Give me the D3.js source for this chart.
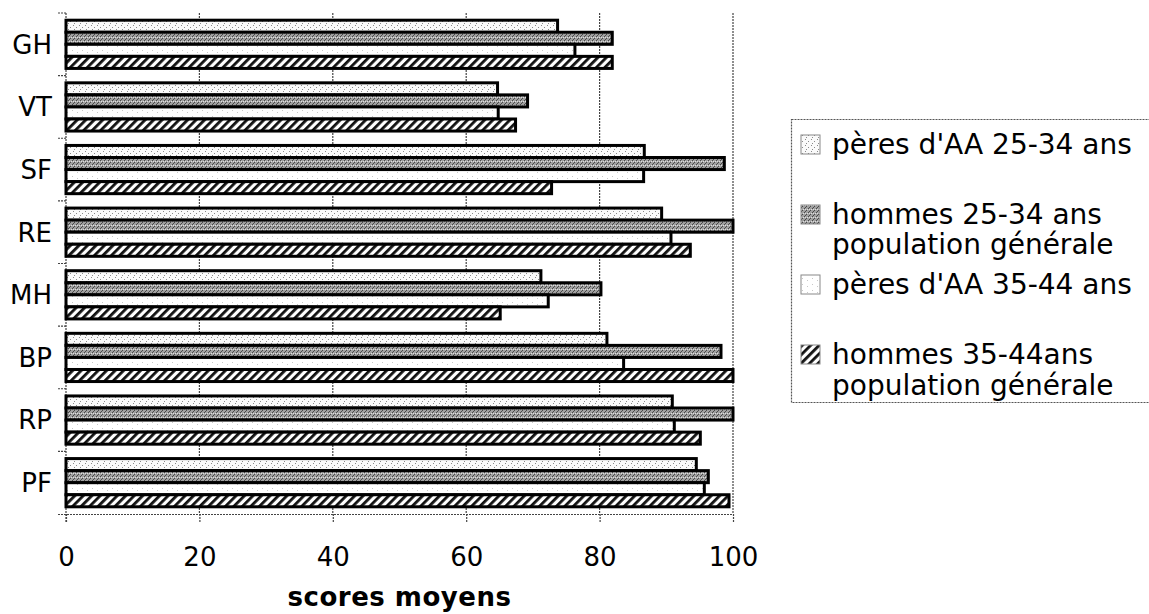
<!DOCTYPE html>
<html><head><meta charset="utf-8">
<script src="https://cdnjs.cloudflare.com/ajax/libs/d3/7.8.5/d3.min.js"></script>
<style>body{margin:0;background:#fff}svg{display:block}text{font-family:"DejaVu Sans",Verdana,sans-serif;fill:#000}</style>
</head><body><svg id="c" width="1149" height="614"></svg>
<script>
const categories = ["GH","VT","SF","RE","MH","BP","RP","PF"];
const seriesNames = ["pères d'AA 25-34 ans","hommes 25-34 ans population générale","pères d'AA 35-44 ans","hommes 35-44ans population générale"];
const peres2534  = [73.7,64.7,86.7,89.3,71.2,81.1,90.9,94.5];
const hommes2534 = [81.9,69.2,98.7,100,80.2,98.2,100,96.3];
const peres3544  = [76.3,64.8,86.6,90.7,72.3,83.6,91.2,95.7];
const hommes3544 = [81.9,67.4,72.8,93.6,65.1,100,95.1,99.4];
const xTicks = [0,20,40,60,80,100];
const axisTitle = "scores moyens";
const legendLines = [["pères d'AA 25-34 ans"],["hommes 25-34 ans","population générale"],["pères d'AA 35-44 ans"],["hommes 35-44ans","population générale"]];

const seriesValues = [peres2534, hommes2534, peres3544, hommes3544];
const svg = d3.select("#c");
const defs = svg.append("defs");

// patterns
const p1 = defs.append("pattern").attr("id","p0").attr("width",6).attr("height",6).attr("patternUnits","userSpaceOnUse");
p1.append("rect").attr("width",6).attr("height",6).attr("fill","#fafafa");
[[1,1],[4,3],[2,5]].forEach(([x,y])=>p1.append("rect").attr("x",x).attr("y",y).attr("width",1).attr("height",1).attr("fill","#8a8a8a"));
const p2 = defs.append("pattern").attr("id","p1").attr("width",4).attr("height",4).attr("patternUnits","userSpaceOnUse");
p2.append("rect").attr("width",4).attr("height",4).attr("fill","#a0a0a0");
[[0,0],[2,2],[1,3]].forEach(([x,y])=>p2.append("rect").attr("x",x).attr("y",y).attr("width",1).attr("height",1).attr("fill","#4a4a4a"));
[[3,1],[1,1]].forEach(([x,y])=>p2.append("rect").attr("x",x).attr("y",y).attr("width",1).attr("height",1).attr("fill","#ddd"));
const p3 = defs.append("pattern").attr("id","p2").attr("width",10).attr("height",6).attr("patternUnits","userSpaceOnUse");
p3.append("rect").attr("width",10).attr("height",6).attr("fill","#fff");
[[2,2],[7,4]].forEach(([x,y])=>p3.append("rect").attr("x",x).attr("y",y).attr("width",1).attr("height",1).attr("fill","#c8c8c8"));
const p4 = defs.append("pattern").attr("id","p3").attr("width",6).attr("height",6).attr("patternUnits","userSpaceOnUse").attr("patternTransform","rotate(45)");
p4.append("rect").attr("width",6).attr("height",6).attr("fill","#fff");
p4.append("rect").attr("width",2.8).attr("height",6).attr("fill","#111");

const x = d3.scaleLinear().domain([0,100]).range([66,733]);
const y = d3.scaleBand().domain(categories).range([13,514]).paddingInner(0.23).paddingOuter(0.115);
const ys = d3.scaleBand().domain(d3.range(4)).range([0,y.bandwidth()]);
const yOuter = d3.scaleBand().domain(categories).range([13,514]);

// gridlines
svg.append("g").selectAll("line").data(xTicks.filter(d=>d>0)).join("line")
  .attr("x1",d=>x(d)).attr("x2",d=>x(d)).attr("y1",13).attr("y2",514)
  .attr("stroke","#444").attr("stroke-width",1.2).attr("stroke-dasharray","2,1");

// x axis
const xAxis = svg.append("g").attr("transform","translate(0,514)")
  .call(d3.axisBottom(x).tickValues(xTicks).tickSize(9).tickPadding(20));
xAxis.select(".domain").attr("d","M58,0.5H733").attr("stroke","#444").attr("stroke-dasharray","2,1").attr("stroke-width",1.2);
xAxis.selectAll(".tick line").attr("stroke","#444").attr("stroke-dasharray","2,1").attr("stroke-width",1.2);
xAxis.selectAll(".tick text").attr("font-size",26).attr("font-family","DejaVu Sans").attr("dy","0.9em");

// y axis (band boundaries ticks)
const yAxis = svg.append("g").attr("transform","translate(66,0)");
yAxis.append("line").attr("x1",0).attr("x2",0).attr("y1",13).attr("y2",523).attr("stroke","#444").attr("stroke-width",1.2).attr("stroke-dasharray","2,1");
yAxis.selectAll(".bt").data(categories).join("line").attr("class","bt")
  .attr("x1",-8).attr("x2",0).attr("y1",d=>yOuter(d)).attr("y2",d=>yOuter(d))
  .attr("stroke","#444").attr("stroke-width",1.2).attr("stroke-dasharray","2,1");
yAxis.selectAll(".cl").data(categories).join("text").attr("class","cl")
  .attr("x",-14).attr("y",d=>y(d)+y.bandwidth()/2).attr("dy","0.36em")
  .attr("text-anchor","end").attr("font-size",26).text(d=>d);

// bars
const g = svg.append("g");
seriesValues.forEach((vals,si)=>{
  g.append("g").selectAll("rect").data(categories.map((c,i)=>({c,v:vals[i]}))).join("rect")
    .attr("x",x(0)).attr("y",d=>y(d.c)+ys(si)).attr("height",ys.bandwidth())
    .attr("width",d=>x(d.v)-x(0)).attr("fill",`url(#p${si})`)
    .attr("stroke","#000").attr("stroke-width",3);
});

// axis title
svg.append("text").attr("x",(x(0)+x(100))/2).attr("y",606).attr("text-anchor","middle")
  .attr("font-size",26).attr("font-weight","bold").attr("letter-spacing",0.5).text(axisTitle);

// legend
const lg = svg.append("g");
lg.append("rect").attr("x",791.5).attr("y",119.5).attr("width",400).attr("height",283)
  .attr("fill","#fff").attr("stroke","#555").attr("stroke-width",1.2).attr("stroke-dasharray","2,1");
const baselines = [[154],[224,254],[294],[364,395]];
legendLines.forEach((lines,i)=>{
  lg.append("rect").attr("x",801).attr("y",baselines[i][0]-19).attr("width",19).attr("height",19)
    .attr("fill",`url(#p${i})`).attr("stroke","#888").attr("stroke-width",1);
  lines.forEach((t,j)=>lg.append("text").attr("x",832).attr("y",baselines[i][j]).attr("font-size",28).text(t));
});
</script></body></html>
